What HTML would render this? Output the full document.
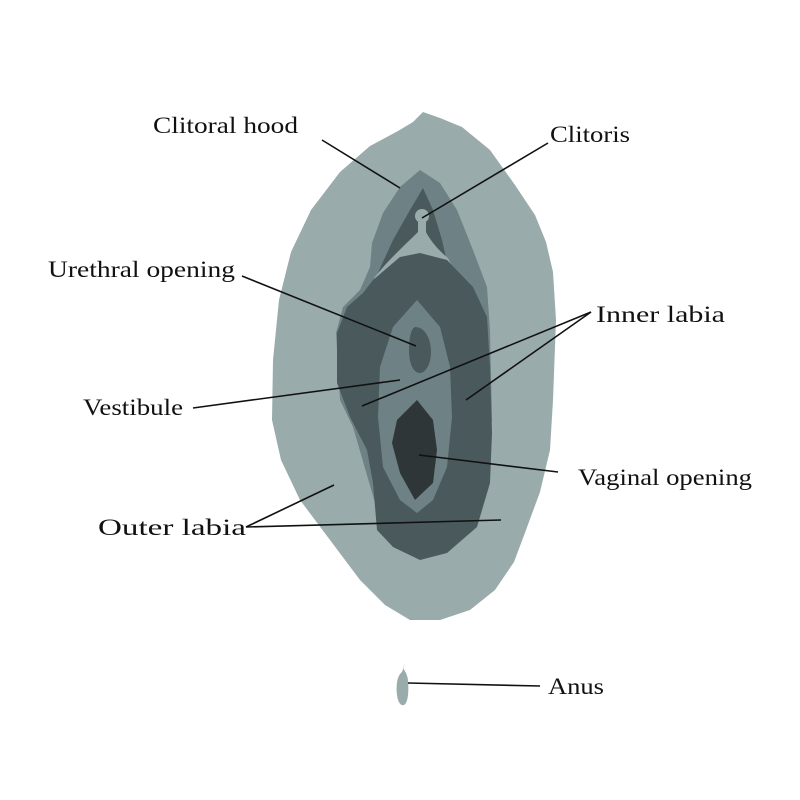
<!DOCTYPE html>
<html><head><meta charset="utf-8"><style>
html,body{margin:0;padding:0;background:#fff;}
svg{display:block;}
text{font-family:"Liberation Serif",serif;font-size:23px;fill:#111;}
</style></head><body>
<svg width="800" height="800" viewBox="0 0 800 800">
<path fill="#9aabab" d="M423,112 L440,118 L462,127 L490,150 L515,185 L535,215 L546,242 L553,272 L556,320 L553,400 L550,450 L540,492 L526,530 L514,562 L495,590 L470,610 L440,620 L410,620 L385,605 L360,580 L330,540 L300,500 L281,460 L272,420 L273,360 L279,300 L291,252 L311,210 L340,172 L370,146 L398,131 L413,122 Z"/>
<path fill="#6e8285" d="M420,170 L440,183 L457,210 L473,250 L487,287 L490,330 L492,420 L485,470 L450,520 L380,520 L353,427 L340,400 L336,333 L343,307 L360,290 L370,267 L372,243 L383,213 L400,187 Z"/>
<path fill="#4a5a5c" d="M423,188 L433,210 L442,240 L447,262 L377,275 L393,240 L410,210 Z"/>
<path fill="#9aabab" d="M418,222 L418,232 C405,245 390,258 374,278 L380,282 C400,268 430,258 452,266 L448,258 C438,250 430,240 426,232 L426,222 Z"/>
<circle cx="422" cy="216" r="7" fill="#9aabab"/>
<path fill="#4a5a5c" d="M373,280 L400,257 L420,253 L447,260 L473,287 L487,317 L490,367 L492,433 L490,483 L477,527 L447,553 L420,560 L393,547 L377,530 L373,483 L367,450 L350,417 L337,383 L337,333 L347,307 L363,293 Z"/>
<path fill="#6e8285" d="M417,300 L440,327 L450,367 L452,417 L447,467 L433,500 L417,513 L400,500 L383,467 L378,417 L380,367 L393,327 Z"/>
<path fill="#4a5a5c" d="M416,327 C426,328 431,340 431,352 C431,365 425,373 420,373 C413,373 409,363 409,350 C409,338 411,327 416,327 Z"/>
<path fill="#2e3638" d="M417,400 L433,420 L437,450 L433,483 L415,500 L400,473 L392,443 L397,420 Z"/>
<path fill="#9aabab" d="M405,663 L402,672 C397,676 396,685 397,695 C398,703 401,706 404,705 C408,703 409,692 408,680 C407,673 404,670 403,668 Z"/>
<g stroke="#111" stroke-width="1.6" fill="none">
<line x1="322" y1="140" x2="400" y2="188"/>
<line x1="548" y1="143" x2="422" y2="218"/>
<line x1="242" y1="276" x2="416" y2="346"/>
<line x1="591" y1="312" x2="362" y2="406"/>
<line x1="591" y1="312" x2="466" y2="400"/>
<line x1="193" y1="408" x2="400" y2="380"/>
<line x1="558" y1="472" x2="419" y2="455"/>
<line x1="246" y1="527" x2="334" y2="485"/>
<line x1="246" y1="527" x2="501" y2="520"/>
<line x1="540" y1="686" x2="408" y2="683"/>
</g>
<text x="153" y="133" textLength="145" lengthAdjust="spacingAndGlyphs">Clitoral hood</text>
<text x="550" y="142" textLength="80" lengthAdjust="spacingAndGlyphs">Clitoris</text>
<text x="48" y="277" textLength="187" lengthAdjust="spacingAndGlyphs">Urethral opening</text>
<text x="596" y="322" textLength="129" lengthAdjust="spacingAndGlyphs">Inner labia</text>
<text x="83" y="415" textLength="100" lengthAdjust="spacingAndGlyphs">Vestibule</text>
<text x="578" y="485" textLength="174" lengthAdjust="spacingAndGlyphs">Vaginal opening</text>
<text x="98" y="535" textLength="148" lengthAdjust="spacingAndGlyphs">Outer labia</text>
<text x="548" y="694" textLength="56" lengthAdjust="spacingAndGlyphs">Anus</text>
</svg>
</body></html>
